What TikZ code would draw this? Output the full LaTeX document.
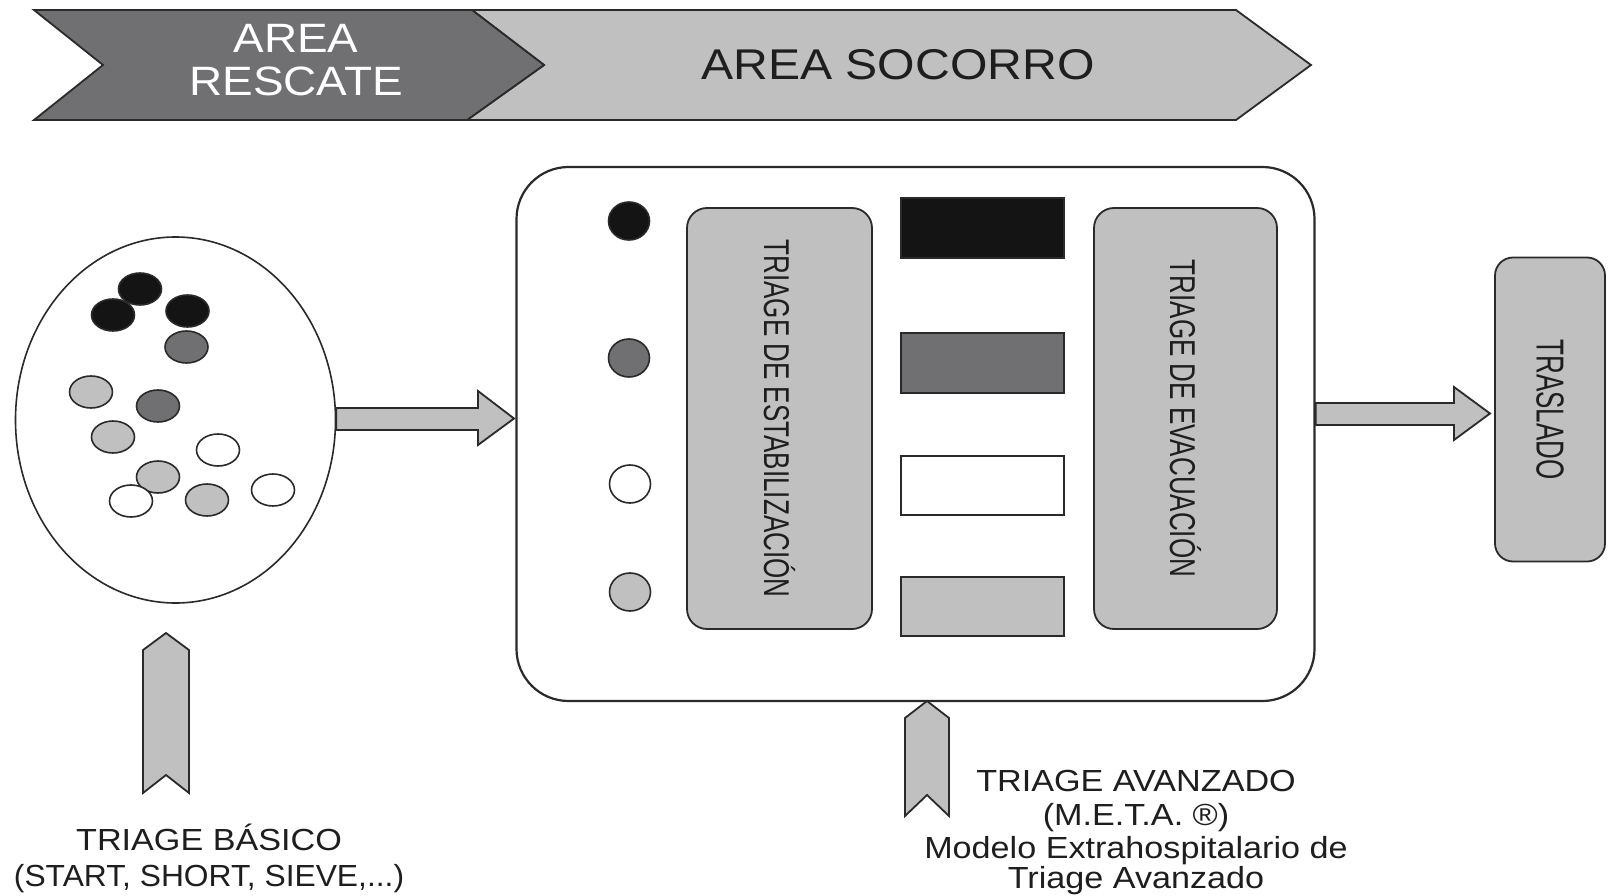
\documentclass[tikz,border=0pt]{standalone}
\usepackage{fontspec}
\setmainfont{Liberation Sans}
\newfontfamily\wide[FakeStretch=1.12]{Liberation Sans}
\usetikzlibrary{shapes.geometric}
\definecolor{dk}{HTML}{707072}
\definecolor{lt}{HTML}{C0C0C0}
\definecolor{blk}{HTML}{141414}
\definecolor{txt}{HTML}{1E1E1E}
\definecolor{ln}{HTML}{2A2A2A}
\tikzset{
  chev/.style={draw=ln, line width=1.8, line join=miter},
  dot/.style={ellipse, draw=ln, line width=1.6, minimum width=43, minimum height=32, inner sep=0},
  legdot/.style={ellipse, draw=ln, line width=1.6, minimum width=41, minimum height=38, inner sep=0},
  colrect/.style={draw=ln, line width=1.6},
  graybox/.style={draw=ln, fill=lt, line width=1.8, rounded corners=20},
  barrow/.style={draw=ln, fill=lt, line width=1.8, line join=miter},
  toptext/.style={anchor=base, font=\wide\fontsize{41}{41}\selectfont},
  lowtext/.style={anchor=base, text=txt, font=\wide\fontsize{30.5}{30.5}\selectfont, inner sep=0},
  rottext/.style={rotate=-90, text=txt, inner sep=0}
}
\newcommand{\vtext}[2]{\scalebox{1}[#1]{\fontsize{26}{26}\selectfont #2}}
\begin{document}
\begin{tikzpicture}[x=1pt,y=-1pt]
\useasboundingbox[fill=white] (0,0) rectangle (1609,896);

% top chevrons
\draw[chev, fill=lt] (472,10) -- (1236,10) -- (1311,65) -- (1236,120) -- (467,120) -- (544,65) -- cycle;
\draw[chev, fill=dk] (34,10) -- (472,10) -- (544,65) -- (467,120) -- (34,120) -- (103,65) -- cycle;
\node[toptext, text=white] (areaA) at (296,53) {AREA};
\node[toptext, text=white] (areaR) at (296,95.5) {RESCATE};
\node[toptext, text=txt, font=\wide\fontsize{43}{43}\selectfont] (socorro) at (898,80) {AREA SOCORRO};

% crowd ellipse
\node[ellipse, draw=ln, line width=1.6, minimum width=320, minimum height=366, inner sep=0] (crowd) at (175.5,420) {};
\node[dot, fill=blk] (d1) at (140,289) {};
\node[dot, fill=blk] (d2) at (113,315) {};
\node[dot, fill=blk] (d3) at (187.5,311) {};
\node[dot, fill=dk] (d4) at (186.5,347) {};
\node[dot, fill=lt] (d5) at (91,392) {};
\node[dot, fill=dk] (d6) at (158,406) {};
\node[dot, fill=lt] (d7) at (113,437) {};
\node[dot, fill=white] (d8) at (218,450) {};
\node[dot, fill=lt] (d9) at (158,477) {};
\node[dot, fill=lt] (d11) at (207,500) {};
\node[dot, fill=white] (d12) at (273,490) {};
\node[dot, fill=white] (d10) at (131,501) {};

% main rounded box
\node[draw=ln, line width=2.2, rounded corners=52, minimum width=798, minimum height=534, inner sep=0] (box) at (915.5,434) {};

% legend dots
\node[legdot, fill=blk] (l1) at (629,221) {};
\node[legdot, fill=dk] (l2) at (629,358) {};
\node[legdot, fill=white] (l3) at (630,484) {};
\node[legdot, fill=lt] (l4) at (630,592) {};

% gray boxes
\node[graybox, minimum width=185, minimum height=421, inner sep=0] (estab) at (779.5,418.5) {};
\node[rottext] (estabT) at (estab.center) {\vtext{1.38}{TRIAGE DE ESTABILIZACIÓN}};
\node[graybox, minimum width=183, minimum height=421, inner sep=0] (evac) at (1185.5,418.5) {};
\node[rottext] (evacT) at (evac.center) {\vtext{1.38}{TRIAGE DE EVACUACIÓN}};

% colour rectangles
\node[colrect, fill=blk, minimum width=163, minimum height=60, inner sep=0] (r1) at (982.5,228) {};
\node[colrect, fill=dk, minimum width=163, minimum height=60, inner sep=0] (r2) at (982.5,363) {};
\node[colrect, fill=white, minimum width=163, minimum height=59, inner sep=0] (r3) at (982.5,485.5) {};
\node[colrect, fill=lt, minimum width=163, minimum height=59, inner sep=0] (r4) at (982.5,606.5) {};

% traslado
\node[graybox, rounded corners=18, minimum width=110, minimum height=304, inner sep=0] (tras) at (1550,409.5) {};
\node[rottext] (trasT) at (tras.center) {\vtext{1.5}{TRASLADO}};

% block arrows
\draw[barrow] (crowd.east |- 0,408) -- (478,408) -- (478,391) -- (514,418.5) -- (478,445) -- (478,430) -- (crowd.east |- 0,430) -- cycle;
\draw[barrow] (box.east |- 0,403) -- (1454,403) -- (1454,387) -- (1490,413.5) -- (1454,440) -- (1454,425) -- (box.east |- 0,425) -- cycle;

% up chevron arrows
\draw[barrow] (143,650) -- (166,633) -- (189,650) -- (189,793) -- (166,775) -- (143,793) -- cycle;
\draw[barrow] (905,718) -- (927,701) -- (949,718) -- (949,816) -- (927,795) -- (905,816) -- cycle;

% bottom texts
\node[lowtext] (basico1) at (209,850.5) {TRIAGE BÁSICO};
\node[lowtext] (basico2) at (209,886.5) {\scalebox{0.93}[1]{(START, SHORT, SIEVE,...)}};
\node[lowtext] (av1) at (1136,791.5) {TRIAGE AVANZADO};
\node[lowtext] (av2) at (1136,825.5) {(M.E.T.A. ®)};
\node[lowtext] (av3) at (1136,858.5) {Modelo Extrahospitalario de};
\node[lowtext] (av4) at (1136,888.5) {Triage Avanzado};
\end{tikzpicture}
\end{document}
